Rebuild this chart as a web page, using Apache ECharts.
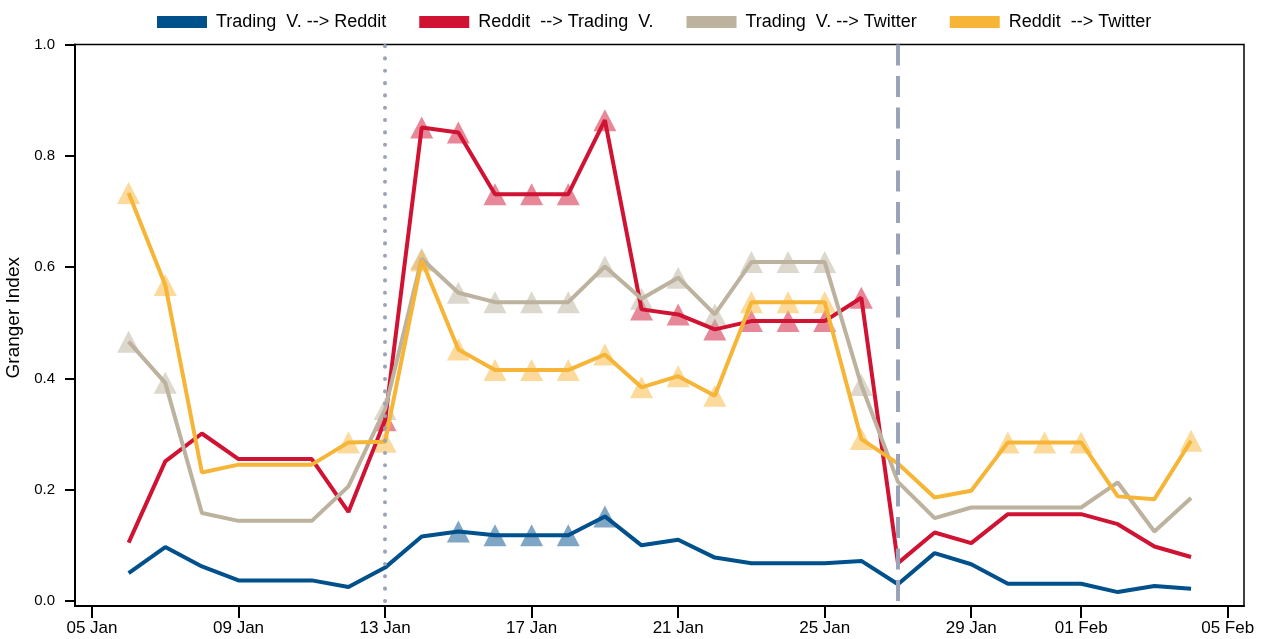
<!DOCTYPE html>
<html>
<head>
<meta charset="utf-8">
<script src="https://cdn.jsdelivr.net/npm/echarts@6/dist/echarts.min.js"></script>
<style>
  html, body { margin: 0; padding: 0; background: #fff; }
  #main { width: 1263px; height: 639px; }
</style>
</head>
<body>
<div id="main"></div>
<script>
// days, 6 Jan .. 4 Feb 2021
const dates = [
  '2021-01-06', '2021-01-07', '2021-01-08', '2021-01-09', '2021-01-10', '2021-01-11',
  '2021-01-12', '2021-01-13', '2021-01-14', '2021-01-15', '2021-01-16', '2021-01-17',
  '2021-01-18', '2021-01-19', '2021-01-20', '2021-01-21', '2021-01-22', '2021-01-23',
  '2021-01-24', '2021-01-25', '2021-01-26', '2021-01-27', '2021-01-28', '2021-01-29',
  '2021-01-30', '2021-01-31', '2021-02-01', '2021-02-02', '2021-02-03', '2021-02-04'
];

const tradingToReddit = [0.050, 0.097, 0.062, 0.037, 0.037, 0.037, 0.025, 0.060, 0.116, 0.125,
  0.118, 0.118, 0.118, 0.152, 0.100, 0.110, 0.078, 0.068, 0.068, 0.068,
  0.072, 0.030, 0.086, 0.066, 0.031, 0.031, 0.031, 0.016, 0.027, 0.022];
const redditToTrading = [0.105, 0.251, 0.301, 0.255, 0.255, 0.255, 0.160, 0.325, 0.851, 0.842,
  0.731, 0.731, 0.731, 0.864, 0.524, 0.515, 0.488, 0.503, 0.503, 0.503,
  0.545, 0.068, 0.123, 0.104, 0.156, 0.156, 0.156, 0.138, 0.098, 0.079];
const tradingToTwitter = [0.466, 0.392, 0.158, 0.144, 0.144, 0.144, 0.206, 0.345, 0.615, 0.554,
  0.537, 0.537, 0.537, 0.601, 0.543, 0.581, 0.515, 0.609, 0.609, 0.609,
  0.388, 0.214, 0.149, 0.168, 0.168, 0.168, 0.168, 0.213, 0.125, 0.185];
const redditToTwitter = [0.733, 0.568, 0.231, 0.245, 0.245, 0.245, 0.285, 0.286, 0.612, 0.452,
  0.415, 0.415, 0.415, 0.443, 0.384, 0.404, 0.369, 0.537, 0.537, 0.537,
  0.291, 0.247, 0.186, 0.198, 0.285, 0.285, 0.285, 0.188, 0.183, 0.288];

// 1 = significant day (triangle marker)
const tradingToRedditSig = [0,0,0,0,0,0,0,0,0,1, 1,1,1,1,0,0,0,0,0,0, 0,0,0,0,0,0,0,0,0,0];
const redditToTradingSig = [0,0,0,0,0,0,0,1,1,1, 1,1,1,1,1,1,1,1,1,1, 1,0,0,0,0,0,0,0,0,0];
const tradingToTwitterSig = [1,1,0,0,0,0,0,1,1,1, 1,1,1,1,1,1,1,1,1,1, 1,0,0,0,0,0,0,0,0,0];
const redditToTwitterSig = [1,1,0,0,0,0,1,1,1,1, 1,1,1,1,1,1,1,1,1,1, 1,0,0,0,1,1,1,0,0,1];

const xTicks = ['2021-01-05', '2021-01-09', '2021-01-13', '2021-01-17', '2021-01-21',
  '2021-01-25', '2021-01-29', '2021-02-01', '2021-02-05'];
const yTicks = [0, 0.2, 0.4, 0.6, 0.8, 1.0];
const eventDates = ['2021-01-13', '2021-01-27'];

const names = ['Trading  V. --> Reddit', 'Reddit  --> Trading  V.', 'Trading  V. --> Twitter', 'Reddit  --> Twitter'];
const colors = ['#00508C', '#D01233', '#BCB29E', '#F7B538'];
const values = [tradingToReddit, redditToTrading, tradingToTwitter, redditToTwitter];
const sigs = [tradingToRedditSig, redditToTradingSig, tradingToTwitterSig, redditToTwitterSig];

const DAY = 86400000;
const ts = d => new Date(d).getTime();
const months = ['Jan', 'Feb', 'Mar', 'Apr', 'May', 'Jun', 'Jul', 'Aug', 'Sep', 'Oct', 'Nov', 'Dec'];
function fmtDate(v) {
  const d = new Date(v);
  const day = String(d.getUTCDate()).padStart(2, '0');
  return day + ' ' + months[d.getUTCMonth()];
}

const font = "'Liberation Sans', Arial, Helvetica, sans-serif";

let series = [];
// triangles first, under the lines
values.forEach((vals, k) => {
  series.push({
    name: 'sig' + k,
    type: 'scatter',
    z: 1,
    silent: true,
    symbol: 'triangle',
    symbolSize: [23, 22],
    itemStyle: { color: colors[k], opacity: 0.5 },
    data: dates.map((d, i) => [ts(d), vals[i]]).filter((p, i) => sigs[k][i])
  });
});
values.forEach((vals, k) => {
  series.push({
    name: names[k],
    type: 'line',
    z: 2,
    showSymbol: false,
    silent: true,
    color: colors[k],
    itemStyle: { color: colors[k] },
    lineStyle: { color: colors[k], width: 4 },
    data: dates.map((d, i) => [ts(d), vals[i]])
  });
});
// event markers
series[series.length - 1].markLine = {
  silent: true,
  symbol: ['none', 'none'],
  label: { show: false },
  animation: false,
  data: [
    [{ coord: [ts(eventDates[0]), 0], lineStyle: { color: '#9AA3B8', width: 4, type: [0.1, 12.23], cap: 'round' } },
     { coord: [ts(eventDates[0]), 1] }],
    [{ coord: [ts(eventDates[1]), 0], lineStyle: { color: '#9AA3B8', width: 4, type: [21, 10.5] } },
     { coord: [ts(eventDates[1]), 1] }]
  ]
};

let myChart = echarts.init(document.getElementById('main'));
myChart.setOption({
  animation: false,
  textStyle: { fontFamily: font, color: '#000' },
  legend: {
    data: names,
    left: 152,
    top: 8,
    icon: 'rect',
    itemWidth: 50,
    itemHeight: 12,
    itemGap: 33,
    selectedMode: false,
    textStyle: { fontSize: 18, color: '#000', fontFamily: font, padding: [0, 0, 0, 4] }
  },
  grid: {
    left: 75, right: 19, top: 44.5, bottom: 33,
    outerBoundsMode: 'none',
    containLabel: false,
    show: true, borderColor: '#000', borderWidth: 1.5
  },
  xAxis: {
    type: 'value',
    min: ts(xTicks[0]) - 0.464 * DAY,
    max: ts(xTicks[xTicks.length - 1]) + 0.445 * DAY,
    splitLine: { show: false },
    axisLine: { onZero: false, lineStyle: { color: '#000', width: 2 } },
    axisTick: { length: 12, lineStyle: { color: '#000', width: 2 }, customValues: xTicks.map(ts) },
    axisLabel: {
      customValues: xTicks.map(ts),
      formatter: v => fmtDate(v),
      fontSize: 17, color: '#000', margin: 14, fontFamily: font
    }
  },
  yAxis: {
    type: 'value',
    min: -0.009,
    max: 1,
    name: 'Granger Index',
    nameLocation: 'middle',
    nameGap: 50,
    nameTextStyle: { fontSize: 19, color: '#000', fontFamily: font, padding: [0, 0, 0, 15] },
    splitLine: { show: false },
    axisLine: { show: true, onZero: false, lineStyle: { color: '#000', width: 2 } },
    axisTick: { show: true, length: 10, lineStyle: { color: '#000', width: 2 }, customValues: yTicks },
    axisLabel: {
      customValues: yTicks,
      formatter: v => v.toFixed(1),
      fontSize: 15, color: '#000', margin: 20, fontFamily: font
    }
  },
  series: series
});
</script>
</body>
</html>
